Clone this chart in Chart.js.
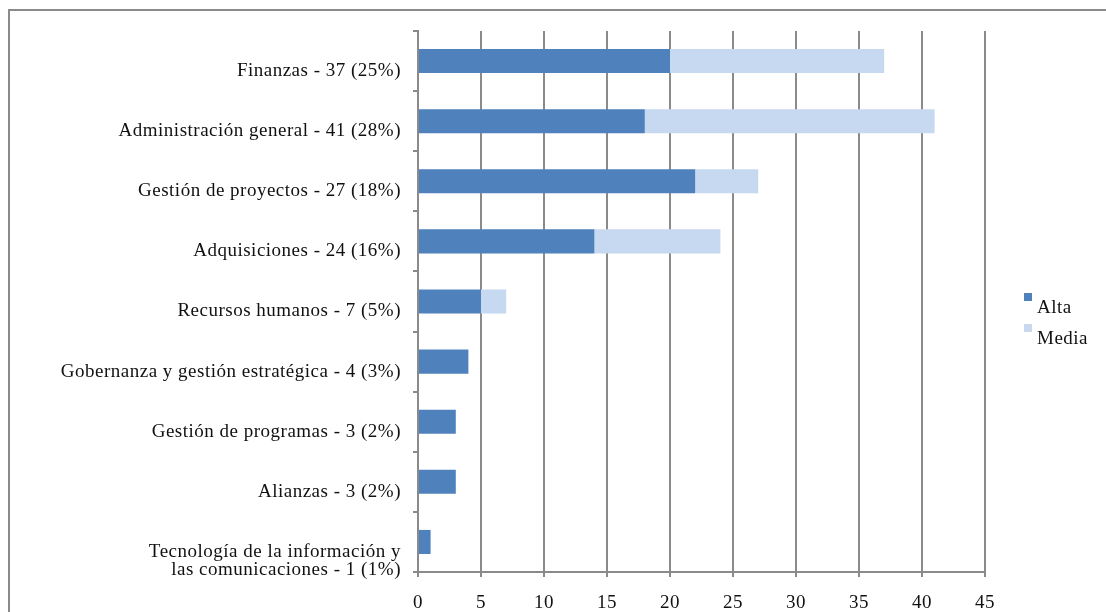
<!DOCTYPE html>
<html>
<head>
<meta charset="utf-8">
<script src="https://cdn.jsdelivr.net/npm/chart.js@4.4.1/dist/chart.umd.min.js"></script>
<style>
  html, body { margin: 0; padding: 0; background: #fff; }
  #wrap { position: relative; width: 1106px; height: 612px; }
</style>
</head>
<body>
<div id="wrap"><canvas id="chart" width="1106" height="612"></canvas></div>
<script>
const categories = [
    'Finanzas - 37 (25%)',
    'Administración general - 41 (28%)',
    'Gestión de proyectos - 27 (18%)',
    'Adquisiciones - 24 (16%)',
    'Recursos humanos - 7 (5%)',
    'Gobernanza y gestión estratégica - 4 (3%)',
    'Gestión de programas - 3 (2%)',
    'Alianzas - 3 (2%)',
    // leading blank line pushes the two-line label down a bit
    ['', 'Tecnología de la información y', 'las comunicaciones - 1 (1%)']
];
const alta = [20, 18, 22, 14, 5, 4, 3, 3, 1];
const media = [17, 23, 5, 10, 2, 0, 0, 0, 0];
const xTicks = [0, 5, 10, 15, 20, 25, 30, 35, 40, 45];

const serif = "'Liberation Serif', 'Times New Roman', serif";
const gridGray = '#8a8a8a';
const spacing = '0.5px';

// outer frame + letter spacing for all canvas text
const framePlugin = {
    id: 'frame',
    beforeDraw(chart) {
        const ctx = chart.ctx;
        ctx.letterSpacing = spacing;
        ctx.save();
        ctx.strokeStyle = gridGray;
        ctx.lineWidth = 2;
        ctx.strokeRect(9, 10, 1200, 700);
        ctx.restore();
    }
};

// legend on the right: small square sitting above-left of the label
const sideLegend = {
    id: 'sideLegend',
    afterDraw(chart) {
        const ctx = chart.ctx;
        ctx.save();
        ctx.letterSpacing = spacing;
        ctx.font = '19px ' + serif;
        ctx.textBaseline = 'alphabetic';
        chart.data.datasets.forEach((ds, i) => {
            const base = 313 + i * 31;
            ctx.fillStyle = ds.backgroundColor;
            ctx.fillRect(1024, base - 20, 8, 8);
            ctx.fillStyle = '#111';
            ctx.fillText(ds.label, 1037, base);
        });
        ctx.restore();
    }
};

new Chart(document.getElementById('chart'), {
    type: 'bar',
    data: {
        labels: categories,
        datasets: [
            { label: 'Alta', data: alta, backgroundColor: '#4F81BD' },
            { label: 'Media', data: media, backgroundColor: '#C6D9F1' }
        ]
    },
    options: {
        indexAxis: 'y',
        responsive: false,
        animation: false,
        layout: { padding: { left: 0, top: 31, right: 121, bottom: 0 } },
        datasets: { bar: { barPercentage: 0.4, categoryPercentage: 1 } },
        scales: {
            x: {
                stacked: true,
                min: 0,
                max: 45,
                afterBuildTicks(scale) { scale.ticks = xTicks.map(v => ({ value: v })); },
                afterFit(scale) { scale.height = 40; },
                grid: { color: gridGray, lineWidth: 2, tickLength: 5 },
                border: { color: gridGray, width: 2 },
                ticks: { color: '#111', padding: 15, font: { family: serif, size: 19 } }
            },
            y: {
                stacked: true,
                afterFit(scale) {
                    scale.width = 418;
                    scale.paddingTop = 0;
                    scale.paddingBottom = 0;
                },
                grid: { drawOnChartArea: false, color: gridGray, lineWidth: 2, tickLength: 5, offset: true },
                border: { color: gridGray, width: 2 },
                ticks: {
                    color: '#111',
                    padding: 12,
                    labelOffset: 10,
                    font: { family: serif, size: 19, lineHeight: 0.97 }
                }
            }
        },
        plugins: {
            legend: { display: false },
            tooltip: { enabled: false }
        }
    },
    plugins: [framePlugin, sideLegend]
});
</script>
</body>
</html>
